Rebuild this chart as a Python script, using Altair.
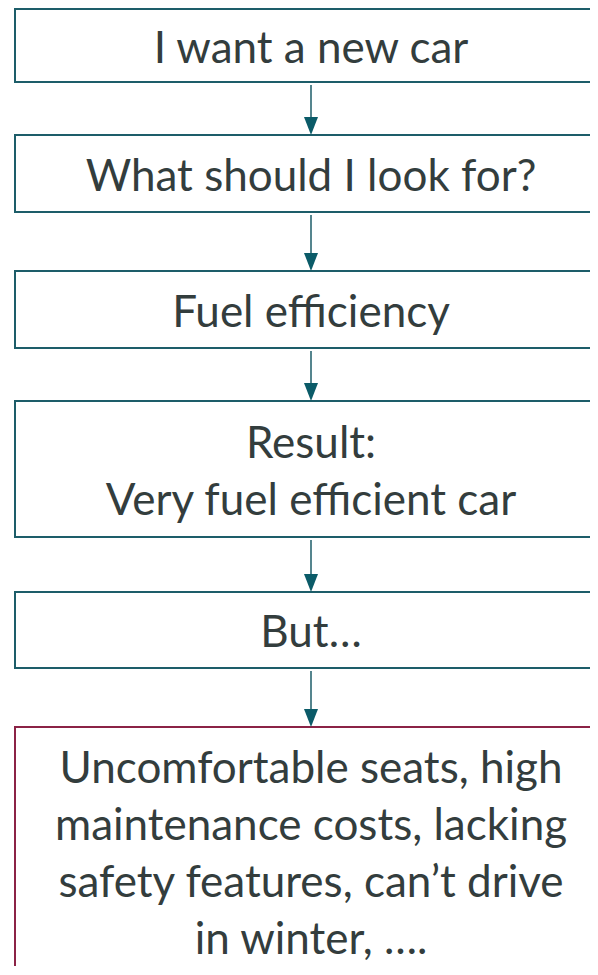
import altair as alt
import pandas as pd

# ---- diagram content -------------------------------------------------------
steps = [
    "I want a new car",
    "What should I look for?",
    "Fuel efficiency",
    "Result:\nVery fuel efficient car",
    "But…",
    "Uncomfortable seats, high\nmaintenance costs, lacking\nsafety features, can’t drive\nin winter, ….",
]
step_kind = ["step", "step", "step", "step", "step", "outcome"]
# vertical extent of each box (page pixels, top to bottom)
box_top = [9, 135, 271, 401, 592, 727]
box_bottom = [82, 212, 348, 537, 668, 975]

# ---- layout / style --------------------------------------------------------
W, H = 582, 958
X0, Y0 = 8, 8
BOX_LEFT, BOX_RIGHT, CX = 15, 700, 311
FONT, FS, LH = "Lato", 44, 57
CAP = 0.716 * FS
TEXT_COLOR = "#333d3d"
TEAL = "#1d5d69"
ARROW = "#0b5b68"
RED = "#8b2346"
HEAD_H, HEAD_W = 18, 14

# box outlines as segments (top, bottom, left edge; right side runs off the page)
seg_rows = []
for t, b, kd in zip(box_top, box_bottom, step_kind):
    seg_rows.append({"x1": BOX_LEFT - 1, "x2": BOX_RIGHT, "y1": t, "y2": t, "kind": kd})
    seg_rows.append({"x1": BOX_LEFT - 1, "x2": BOX_RIGHT, "y1": b, "y2": b, "kind": kd})
    seg_rows.append({"x1": BOX_LEFT, "x2": BOX_LEFT, "y1": t, "y2": b, "kind": kd})
segs = pd.DataFrame(seg_rows)

text_rows = []
for label, t, b in zip(steps, box_top, box_bottom):
    parts = label.split("\n")
    mid = (t + b) / 2 + 1.5
    n = len(parts)
    for i, p in enumerate(parts):
        text_rows.append({"x": CX, "y": mid + (i - (n - 1) / 2) * LH + CAP / 2, "line": p})
texts = pd.DataFrame(text_rows)

arrow_rows = []
head_rows = []
for i in range(len(steps) - 1):
    arrow_rows.append({"x": CX, "y1": box_bottom[i] + 3, "y2": box_top[i + 1] - HEAD_H + 1})
    head_rows.append({"x": CX, "y": box_top[i + 1] - HEAD_H / 2})
arrows = pd.DataFrame(arrow_rows)
heads = pd.DataFrame(head_rows)

xs = alt.Scale(domain=[X0, X0 + W], nice=False, zero=False)
ys = alt.Scale(domain=[Y0, Y0 + H], nice=False, zero=False, reverse=True)

edges = alt.Chart(segs).mark_rule(strokeWidth=2, clip=True).encode(
    x=alt.X("x1:Q", scale=xs, axis=None),
    x2="x2:Q",
    y=alt.Y("y1:Q", scale=ys, axis=None),
    y2="y2:Q",
    color=alt.Color("kind:N", scale=alt.Scale(domain=["step", "outcome"], range=[TEAL, RED]), legend=None),
)

rules = alt.Chart(arrows).mark_rule(color=TEAL, strokeWidth=1.5).encode(
    x=alt.X("x:Q", scale=xs, axis=None),
    y=alt.Y("y1:Q", scale=ys, axis=None),
    y2="y2:Q",
)

k = HEAD_W / HEAD_H
head_path = f"M{-k:.4f},-1L{k:.4f},-1L0,1Z"
tips = alt.Chart(heads).mark_point(
    shape=head_path, size=HEAD_H ** 2, filled=True, fill=ARROW, opacity=1, strokeWidth=0
).encode(
    x=alt.X("x:Q", scale=xs, axis=None),
    y=alt.Y("y:Q", scale=ys, axis=None),
)

labels = alt.Chart(texts).mark_text(
    font=FONT, fontSize=FS, color=TEXT_COLOR, align="center", baseline="alphabetic"
).encode(
    x=alt.X("x:Q", scale=xs, axis=None),
    y=alt.Y("y:Q", scale=ys, axis=None),
    text="line:N",
)

chart = alt.layer(edges, rules, tips, labels).properties(
    width=W, height=H, padding=0, background="white",
    autosize=alt.AutoSizeParams(type="none"),
).configure_view(stroke=None)

chart.save("out.html", embed_options={"renderer": "svg", "actions": False})
